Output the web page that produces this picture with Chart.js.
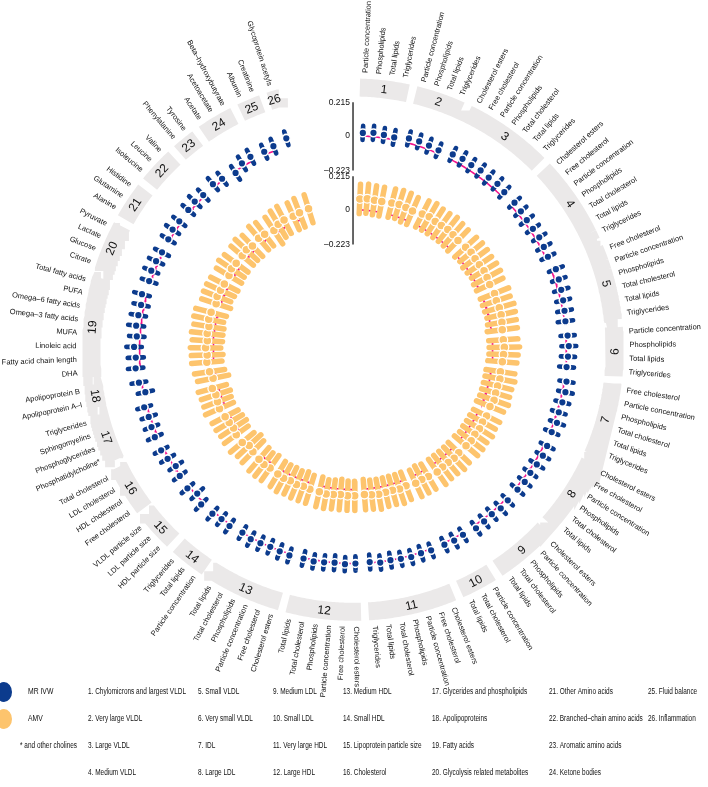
<!DOCTYPE html>
<html>
<head>
<meta charset="utf-8">
<script src="https://cdn.jsdelivr.net/npm/chart.js@4/dist/chart.umd.min.js"></script>
<style>
  html, body { margin: 0; padding: 0; background: #fff; overflow: hidden; }
  canvas { display: block; }
</style>
</head>
<body>
<canvas id="circ" width="708" height="787"></canvas>
<script>
// ---- data ----
const groupItems = [
  ['Particle concentration', 'Phospholipids', 'Total lipids', 'Triglycerides'],
  ['Particle concentration', 'Phospholipids', 'Total lipids', 'Triglycerides'],
  ['Cholesterol esters', 'Free cholesterol', 'Particle concentration', 'Phospholipids', 'Total cholesterol', 'Total lipids', 'Triglycerides'],
  ['Cholesterol esters', 'Free cholesterol', 'Particle concentration', 'Phospholipids', 'Total cholesterol', 'Total lipids', 'Triglycerides'],
  ['Free cholesterol', 'Particle concentration', 'Phospholipids', 'Total cholesterol', 'Total lipids', 'Triglycerides'],
  ['Particle concentration', 'Phospholipids', 'Total lipids', 'Triglycerides'],
  ['Free cholesterol', 'Particle concentration', 'Phospholipids', 'Total cholesterol', 'Total lipids', 'Triglycerides'],
  ['Cholesterol esters', 'Free cholesterol', 'Particle concentration', 'Phospholipids', 'Total cholesterol', 'Total lipids'],
  ['Cholesterol esters', 'Particle concentration', 'Phospholipids', 'Total cholesterol', 'Total lipids'],
  ['Particle concentration', 'Total cholesterol', 'Total lipids'],
  ['Cholesterol esters', 'Free cholesterol', 'Particle concentration', 'Phospholipids', 'Total cholesterol', 'Total lipids', 'Triglycerides'],
  ['Cholesterol esters', 'Free cholesterol', 'Particle concentration', 'Phospholipids', 'Total cholesterol', 'Total lipids'],
  ['Cholesterol esters', 'Free cholesterol', 'Particle concentration', 'Phospholipids', 'Total cholesterol', 'Total lipids'],
  ['Particle concentration', 'Total lipids', 'Triglycerides'],
  ['HDL particle size', 'LDL particle size', 'VLDL particle size'],
  ['Free cholesterol', 'HDL cholesterol', 'LDL cholesterol', 'Total cholesterol'],
  ['Phosphatidylcholine*', 'Phosphoglycerides', 'Sphingomyelins', 'Triglycerides'],
  ['Apolipoprotein A–I', 'Apolipoprotein B'],
  ['DHA', 'Fatty acid chain length', 'Linoleic acid', 'MUFA', 'Omega–3 fatty acids', 'Omega–6 fatty acids', 'PUFA', 'Total fatty acids'],
  ['Citrate', 'Glucose', 'Lactate', 'Pyruvate'],
  ['Alanine', 'Glutamine', 'Histidine'],
  ['Isoleucine', 'Leucine', 'Valine'],
  ['Phenylalanine', 'Tyrosine'],
  ['Acetate', 'Acetoacetate', 'Beta–hydroxybutyrate'],
  ['Albumin', 'Creatinine'],
  ['Glycoprotein acetyls']
];

// MR IVW estimates and CI half widths, in metabolite order
const mrEst = [
  0.02, 0.025, 0.02, 0.015,
  0.03, 0.03, 0.025, 0.02,
  0.035, 0.04, 0.035, 0.04, 0.035, 0.04, 0.03,
  0.03, 0.025, 0.02, 0.02, 0.025, 0.02, 0.015,
  0.03, 0.025, 0.02, 0.015, 0.01, 0.005,
  0.01, 0.015, 0.01, 0.005,
  0.015, 0.02, 0.015, 0.01, 0.02, 0.01,
  0.02, 0.025, 0.02, 0.015, 0.02, 0.015,
  0.015, 0.02, 0.01, 0.015, 0.02,
  0.01, 0.015, 0.01,
  0.01, 0.005, 0.01, 0.005, 0.0, 0.005, -0.005,
  0.0, 0.005, 0.0, 0.005, 0.01, 0.005,
  0.01, 0.005, 0.0, 0.005, 0.01, 0.0,
  0.01, 0.005, 0.015,
  0.02, -0.01, 0.015,
  0.005, -0.01, 0.01, 0.02,
  0.02, 0.015, 0.01, 0.02,
  -0.01, 0.02,
  0.03, 0.025, 0.035, 0.02, 0.03, 0.025, 0.02, 0.03,
  0.01, 0.02, 0.015, 0.005,
  0.01, 0.02, 0.015,
  0.015, 0.02, 0.01,
  0.02, 0.01,
  -0.01, 0.02, 0.03,
  0.02, 0.03,
  0.05
];
const mrHw = [
  0.045, 0.045, 0.045, 0.048,
  0.046, 0.045, 0.047, 0.046,
  0.046, 0.048, 0.046, 0.046, 0.048, 0.046, 0.046,
  0.046, 0.046, 0.048, 0.046, 0.046, 0.048, 0.046,
  0.048, 0.046, 0.048, 0.046, 0.048, 0.05,
  0.046, 0.048, 0.046, 0.048,
  0.046, 0.048, 0.046, 0.046, 0.048, 0.046,
  0.046, 0.046, 0.048, 0.046, 0.046, 0.048,
  0.046, 0.048, 0.046, 0.046, 0.048,
  0.046, 0.048, 0.046,
  0.046, 0.048, 0.046, 0.046, 0.048, 0.046, 0.048,
  0.046, 0.046, 0.048, 0.046, 0.046, 0.048,
  0.046, 0.048, 0.046, 0.046, 0.048, 0.046,
  0.048, 0.046, 0.048,
  0.048, 0.05, 0.048,
  0.046, 0.048, 0.048, 0.046,
  0.048, 0.046, 0.048, 0.046,
  0.05, 0.048,
  0.05, 0.052, 0.05, 0.05, 0.052, 0.05, 0.05, 0.052,
  0.05, 0.048, 0.05, 0.05,
  0.048, 0.05, 0.048,
  0.048, 0.05, 0.048,
  0.05, 0.048,
  0.052, 0.05, 0.05,
  0.048, 0.05,
  0.046
];

// AMV estimates and CI half widths
const amvEst = [
  0.07, 0.075, 0.07, 0.07,
  0.075, 0.08, 0.075, 0.07,
  0.08, 0.085, 0.08, 0.08, 0.085, 0.08, 0.075,
  0.08, 0.085, 0.08, 0.08, 0.085, 0.08, 0.075,
  0.08, 0.075, 0.08, 0.08, 0.075, 0.07,
  0.07, 0.075, 0.07, 0.065,
  0.06, 0.065, 0.06, 0.06, 0.065, 0.055,
  0.06, 0.055, 0.06, 0.055, 0.06, 0.055,
  0.05, 0.055, 0.05, 0.05, 0.055,
  0.05, 0.045, 0.05,
  0.04, 0.045, 0.04, 0.04, 0.045, 0.04, 0.035,
  0.04, 0.04, 0.035, 0.04, 0.045, 0.04,
  0.04, 0.035, 0.04, 0.035, 0.04, 0.035,
  0.03, 0.035, 0.03,
  0.02, 0.01, 0.03,
  0.03, 0.02, 0.025, 0.03,
  0.04, 0.035, 0.03, 0.04,
  0.02, 0.035,
  0.045, 0.04, 0.05, 0.04, 0.045, 0.04, 0.05, 0.045,
  0.03, 0.04, 0.035, 0.03,
  0.03, 0.04, 0.035,
  0.035, 0.04, 0.03,
  0.04, 0.035,
  0.02, 0.04, 0.045,
  0.04, 0.045,
  0.05
];
const amvHw = [
  0.094, 0.094, 0.094, 0.094,
  0.094, 0.094, 0.098, 0.094,
  0.094, 0.098, 0.094, 0.094, 0.098, 0.094, 0.094,
  0.094, 0.094, 0.098, 0.094, 0.094, 0.098, 0.094,
  0.098, 0.094, 0.098, 0.094, 0.094, 0.098,
  0.094, 0.098, 0.094, 0.094,
  0.094, 0.098, 0.094, 0.094, 0.098, 0.094,
  0.094, 0.094, 0.098, 0.094, 0.094, 0.098,
  0.094, 0.098, 0.094, 0.094, 0.098,
  0.094, 0.098, 0.094,
  0.094, 0.098, 0.094, 0.094, 0.098, 0.094, 0.098,
  0.094, 0.094, 0.098, 0.094, 0.094, 0.098,
  0.094, 0.098, 0.094, 0.094, 0.098, 0.094,
  0.098, 0.094, 0.098,
  0.098, 0.102, 0.098,
  0.094, 0.098, 0.098, 0.094,
  0.098, 0.094, 0.098, 0.094,
  0.102, 0.098,
  0.098, 0.102, 0.098, 0.098, 0.102, 0.098, 0.098, 0.102,
  0.098, 0.094, 0.098, 0.098,
  0.094, 0.098, 0.094,
  0.094, 0.098, 0.094,
  0.098, 0.094,
  0.102, 0.098, 0.098,
  0.094, 0.098,
  0.094
];

const axisTicks = [0.215, 0, -0.223];
const axisTickText = ['0.215', '0', '–0.223'];

const legendNames = [
  '1. Chylomicrons and largest VLDL', '2. Very large VLDL', '3. Large VLDL', '4. Medium VLDL',
  '5. Small VLDL', '6. Very small VLDL', '7. IDL', '8. Large LDL',
  '9. Medium LDL', '10. Small LDL', '11. Very large HDL', '12. Large HDL',
  '13. Medium HDL', '14. Small HDL', '15. Lipoprotein particle size', '16. Cholesterol',
  '17. Glycerides and phospholipids', '18. Apolipoproteins', '19. Fatty acids', '20. Glycolysis related metabolites',
  '21. Other Amino acids', '22. Branched–chain amino acids', '23. Aromatic amino acids', '24. Ketone bodies',
  '25. Fluid balance', '26. Inflammation'
];

// ---- layout ----
const W = 708, H = 787, CX = 353, CY = 349;
const R_MR = 217, R_AMV = 142, K = 158;      // zero radius of each ring, px per unit
const START = 2.6, STEP = 2.8, GAP = 1.05;   // degrees
const BAND_R = 266, BAND_W = 18, LABEL_R = 281;
const BLUE = '#0c3b8d', ORANGE = '#fdc46d', PINK = '#f2148c', BAND = '#ebe9e9';

const toRad = d => d * Math.PI / 180;
const polar = (r, deg) => ({ x: r * Math.sin(toRad(deg)), y: r * Math.cos(toRad(deg)) });
const BREAK = { x: NaN, y: NaN };

const angles = [], firstAng = [], lastAng = [];
let n = 0;
groupItems.forEach((items, g) => {
  items.forEach((name, j) => {
    const a = START + n * STEP + g * GAP;
    angles.push(a);
    if (j === 0) firstAng[g] = a;
    lastAng[g] = a;
    n++;
  });
});

function ciData(est, hw, r0) {
  const out = [];
  est.forEach((e, i) => {
    out.push(polar(r0 + (e - hw[i]) * K, angles[i]), polar(r0 + (e + hw[i]) * K, angles[i]), BREAK);
  });
  return out;
}
const pointData = (est, r0) => est.map((e, i) => polar(r0 + e * K, angles[i]));

function arcData(r, pad) {
  const out = [];
  groupItems.forEach((items, g) => {
    const a0 = firstAng[g] - pad, a1 = lastAng[g] + pad;
    for (let a = a0; a < a1; a += 0.4) out.push(polar(r, a));
    out.push(polar(r, a1), BREAK);
  });
  return out;
}

const axisData = [
  polar(R_MR + axisTicks[0] * K, 0), polar(R_MR + axisTicks[2] * K, 0), BREAK,
  polar(R_AMV + axisTicks[0] * K, 0), polar(R_AMV + axisTicks[2] * K, 0)
];

const lineDs = (data, color, width, order, cap) => ({
  type: 'line', data, borderColor: color, borderWidth: width, pointRadius: 0,
  spanGaps: false, tension: 0, fill: false, order, borderCapStyle: cap || 'butt'
});

// narrow text, like a condensed face
function narrowText(ctx, t, x, y, sx) {
  ctx.save(); ctx.translate(x, y); ctx.scale(sx, 1);
  ctx.fillText(t, 0, 0);
  ctx.restore();
}

const textPlugin = {
  id: 'circleText',
  afterDatasetsDraw(chart) {
    const ctx = chart.ctx, xs = chart.scales.x, ys = chart.scales.y;
    const pix = p => [xs.getPixelForValue(p.x), ys.getPixelForValue(p.y)];
    ctx.save();
    ctx.fillStyle = '#111';

    // group numbers on the bands
    ctx.font = '12px "Liberation Sans", Arial, sans-serif';
    ctx.textAlign = 'center'; ctx.textBaseline = 'middle';
    groupItems.forEach((items, g) => {
      const a = (firstAng[g] + lastAng[g]) / 2;
      const [x, y] = pix(polar(BAND_R, a));
      const rot = (a > 90 && a < 270) ? a - 180 : a;
      ctx.save(); ctx.translate(x, y); ctx.rotate(toRad(rot));
      ctx.fillText(String(g + 1), 0, 0.5);
      ctx.restore();
    });

    // metabolite labels, radial
    ctx.font = '7.5px "Liberation Sans", Arial, sans-serif';
    groupItems.flat().forEach((name, i) => {
      const a = angles[i];
      const [x, y] = pix(polar(LABEL_R, a));
      ctx.save(); ctx.translate(x, y);
      if (a < 180) { ctx.rotate(toRad(a - 90)); ctx.textAlign = 'left'; }
      else { ctx.rotate(toRad(a - 270)); ctx.textAlign = 'right'; }
      ctx.fillText(name, 0, 0);
      ctx.restore();
    });

    // axis tick labels
    ctx.font = '8.5px "Liberation Sans", Arial, sans-serif';
    ctx.textAlign = 'right';
    [R_MR, R_AMV].forEach(r0 => {
      axisTicks.forEach((v, t) => {
        const [x, y] = pix(polar(r0 + v * K, 0));
        ctx.fillText(axisTickText[t], x - 3, y);
      });
    });

    // legend
    const rowY = [692, 719, 746, 773];
    ctx.fillStyle = BLUE;
    ctx.beginPath(); ctx.ellipse(4, rowY[0], 8, 10, 0, 0, Math.PI * 2); ctx.fill();
    ctx.fillStyle = ORANGE;
    ctx.beginPath(); ctx.ellipse(4, rowY[1], 8, 10, 0, 0, Math.PI * 2); ctx.fill();
    ctx.fillStyle = '#111';
    ctx.font = '8.5px "Liberation Sans", Arial, sans-serif';
    ctx.textAlign = 'left';
    narrowText(ctx, 'MR IVW', 28, rowY[0], 0.8);
    narrowText(ctx, 'AMV', 28, rowY[1], 0.8);
    narrowText(ctx, '* and other cholines', 20, rowY[2], 0.76);
    const colX = [88, 198, 273, 343, 432, 549, 648];
    legendNames.forEach((t, i) => {
      narrowText(ctx, t, colX[Math.floor(i / 4)], rowY[i % 4], 0.76);
    });
    ctx.restore();
  }
};

new Chart(document.getElementById('circ'), {
  type: 'scatter',
  data: {
    datasets: [
      lineDs(arcData(BAND_R, 1.1), BAND, BAND_W, 10),
      lineDs(arcData(R_MR, 0), PINK, 1.6, 8),
      lineDs(arcData(R_AMV, 0), PINK, 1.6, 8),
      lineDs(axisData, '#000', 1.2, 7),
      lineDs(ciData(mrEst, mrHw, R_MR), BLUE, 4.6, 5, 'round'),
      lineDs(ciData(amvEst, amvHw, R_AMV), ORANGE, 5.5, 5, 'round'),
      { data: pointData(mrEst, R_MR), pointRadius: 3.9, backgroundColor: BLUE,
        borderColor: '#fff', borderWidth: 1.6, order: 1 },
      { data: pointData(amvEst, R_AMV), pointRadius: 4.4, backgroundColor: ORANGE,
        borderColor: '#fff', borderWidth: 1.3, order: 1 }
    ]
  },
  options: {
    responsive: false,
    animation: false,
    devicePixelRatio: 1,
    layout: { padding: 0 },
    plugins: { legend: { display: false }, tooltip: { enabled: false } },
    scales: {
      x: { type: 'linear', min: -CX, max: W - CX, display: false },
      y: { type: 'linear', min: -(H - CY), max: CY, display: false }
    }
  },
  plugins: [textPlugin]
});
</script>
</body>
</html>
